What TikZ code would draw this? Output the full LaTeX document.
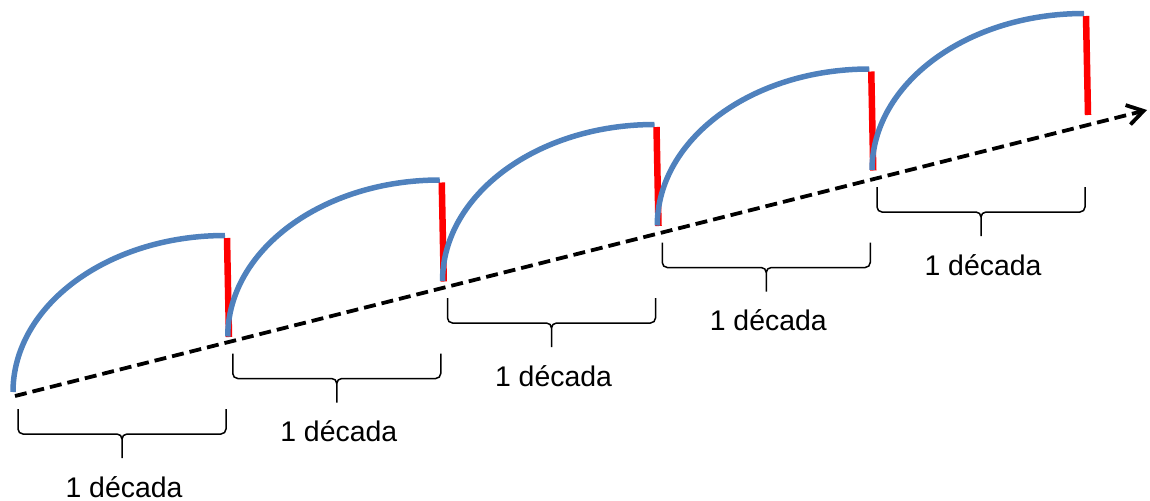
\documentclass[tikz,border=0pt]{standalone}
\usepackage{fontspec}
\setmainfont{Liberation Sans}
\usepackage{xcolor}
\usetikzlibrary{arrows.meta}
\definecolor{curveblue}{HTML}{4F81BD}

\begin{document}
\begin{tikzpicture}[
    x=0.5pt, y=0.5pt,
    every node/.style={font=\fontsize{14.2}{17}\selectfont},
    curve/.style={draw=curveblue, line width=2.75pt},
    jump/.style={draw=red, line width=3.25pt},
    axis/.style={line width=1.9pt, dash pattern=on 6pt off 3pt, -{Straight Barb[length=8pt, width=10pt]}},
    brace/.style={draw=black, line width=0.75pt},
]
    \useasboundingbox (0,0) rectangle (1150,500);
    \coordinate (start) at (15,104);
    \coordinate (end) at (1147,390);
    \foreach \i in {0,...,4} {
        \begin{scope}[shift={(214.75*\i,55.5*\i)}]
            \draw[curve] (13,108) arc[start angle=180, end angle=90, x radius=212, y radius=156.5];
            \draw[jump] (227,262) -- (229,163);
            \draw[brace] (18,91) -- (18,71) arc[start angle=180, end angle=270, radius=5]
                -- (117,66) arc[start angle=90, end angle=0, radius=5] -- (122,42)
                -- (122,61) arc[start angle=180, end angle=90, radius=5]
                -- (221,66) arc[start angle=270, end angle=360, radius=5] -- (226,91);
            \node[anchor=base] (lab\i) at (124,3) {1 década};
        \end{scope}
    }
    \draw[axis] (start) -- (end);
\end{tikzpicture}
\end{document}
